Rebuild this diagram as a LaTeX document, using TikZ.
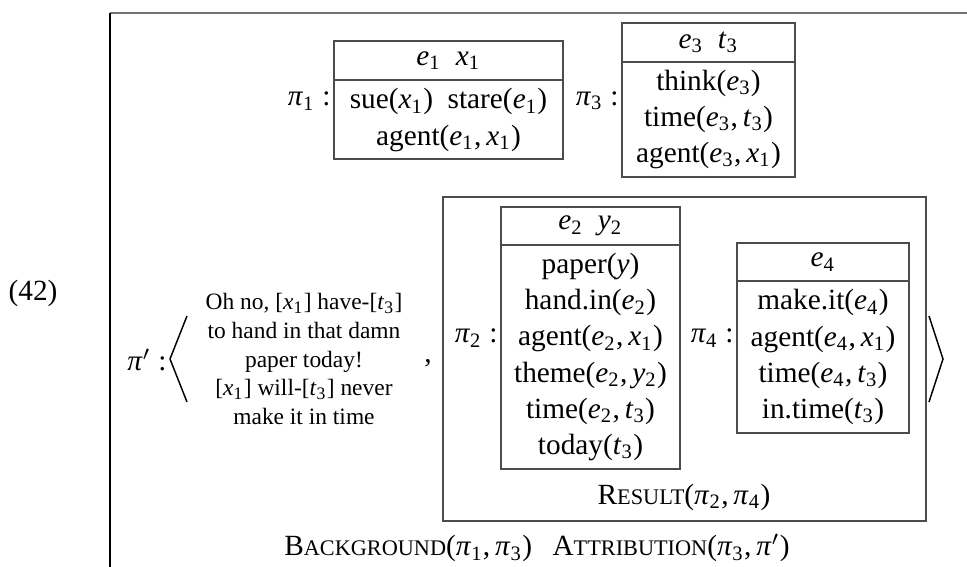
\documentclass[tikz,border=0pt]{standalone}
\usepackage{fontspec}
\setmainfont{Liberation Serif}
\usepackage{tikz}

\newcommand{\vs}[2]{\textit{#1}\textsubscript{#2}}
\newcommand{\lpi}[1]{\textit{π}\textsubscript{#1}}
\newcommand{\relname}[2]{#1{\fontsize{7.6}{9}\selectfont #2}}

\begin{document}
\begin{tikzpicture}[x=0.3413pt,y=0.3413pt,yscale=-1,xscale=1,
  drsbox/.style={draw=black!70,line width=0.5pt},
  rows/.style={inner sep=0pt,align=center,font=\fontsize{10}{12.3}\selectfont},
  lbl/.style={inner sep=0pt,font=\fontsize{10}{12}\selectfont}]
\useasboundingbox (0,0) rectangle (967,567);

%Straight Lines [id:frame]
\draw [color=black!55,line width=0.7pt] (110,13) -- (967,13) ;
\draw [line width=0.5pt] (110,13) -- (110,567) ;

% Text Node
\draw (33,293) node [lbl] (num) {(42)};

%Shape: Rectangle [id:pi1]
\draw [drsbox] (334,41) rectangle (563,159) ;
\draw [drsbox] (334,80) -- (563,80) ;
% Text Node
\draw (331,101) node [lbl,anchor=east] (lab1) {\lpi{1} :};
\draw (448.5,60.5) node [rows] (head1) {\vs{e}{1}\hspace{5pt}\vs{x}{1}};
\draw (448.5,120) node [rows] (body1) {sue(\vs{x}{1})\hspace{5pt}stare(\vs{e}{1})\\agent(\vs{e}{1},\,\vs{x}{1})};

%Shape: Rectangle [id:pi3]
\draw [drsbox] (622,23) rectangle (795,177) ;
\draw [drsbox] (622,62) -- (795,62) ;
% Text Node
\draw (619,101) node [lbl,anchor=east] (lab3) {\lpi{3} :};
\draw (708.5,42.5) node [rows] (head3) {\vs{e}{3}\hspace{5pt}\vs{t}{3}};
\draw (708.5,119.5) node [rows] (body3) {think(\vs{e}{3})\\time(\vs{e}{3},\,\vs{t}{3})\\agent(\vs{e}{3},\,\vs{x}{1})};

%Shape: Rectangle [id:result]
\draw [drsbox] (443,197) rectangle (926,521) ;

%Shape: Rectangle [id:pi2]
\draw [drsbox] (501,207) rectangle (680,469) ;
\draw [drsbox] (501,245) -- (680,245) ;
% Text Node
\draw (498,338) node [lbl,anchor=east] (lab2) {\lpi{2} :};
\draw (590.5,226) node [rows] (head2) {\vs{e}{2}\hspace{5pt}\vs{y}{2}};
\draw (590.5,357) node [rows] (body2) {paper(\textit{y})\\hand.in(\vs{e}{2})\\agent(\vs{e}{2},\,\vs{x}{1})\\theme(\vs{e}{2},\,\vs{y}{2})\\time(\vs{e}{2},\,\vs{t}{3})\\today(\vs{t}{3})};

%Shape: Rectangle [id:pi4]
\draw [drsbox] (737,243) rectangle (909,433) ;
\draw [drsbox] (737,281) -- (909,281) ;
% Text Node
\draw (734,338) node [lbl,anchor=east] (lab4) {\lpi{4} :};
\draw (823,262) node [rows] (head4) {\vs{e}{4}};
\draw (823,357) node [rows] (body4) {make.it(\vs{e}{4})\\agent(\vs{e}{4},\,\vs{x}{1})\\time(\vs{e}{4},\,\vs{t}{3})\\in.time(\vs{t}{3})};

% Text Node
\draw (684,497) node [lbl] (res) {\relname{R}{ESULT}(\lpi{2},\,\lpi{4})};

%Straight Lines [id:angles]
\draw [line width=0.5pt] (187,316) -- (170,359) -- (187,402) ;
\draw [line width=0.5pt] (929,316) -- (943,359) -- (929,402) ;

% Text Node
\draw (167,360) node [lbl,anchor=east] (labp) {\textit{π}$'$ :};
\draw (304,359) node [rows,font=\fontsize{8}{9.8}\selectfont] (utter) {Oh no, [\vs{x}{1}] have-[\vs{t}{3}]\\to hand in that damn\\paper today!\\{}[\vs{x}{1}] will-[\vs{t}{3}] never\\make it in time};
\draw (428,362) node [lbl,anchor=base] (comma) {,};

% Text Node
\draw (537,548) node [lbl] (rels) {\relname{B}{ACKGROUND}(\lpi{1},\,\lpi{3})\hspace{7pt}\relname{A}{TTRIBUTION}(\lpi{3},\,\textit{π}$'$)};
\end{tikzpicture}
\end{document}
